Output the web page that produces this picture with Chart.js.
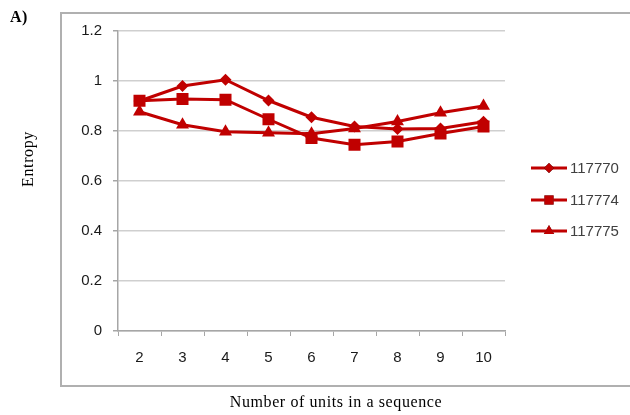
<!DOCTYPE html>
<html>
<head>
<meta charset="utf-8">
<script src="https://cdn.jsdelivr.net/npm/chart.js@4.4.0/dist/chart.umd.min.js"></script>
<style>
  html, body { margin: 0; padding: 0; background: #fff; }
  #wrap { position: relative; width: 630px; height: 415px; overflow: hidden; }
  #myChart { position: absolute; left: 0; top: 0; }
  .lbl { position: absolute; font-family: "Liberation Serif", "DejaVu Serif", serif; font-size: 16px; letter-spacing: 0.6px; color: #000; white-space: nowrap; line-height: 18px; }
  #panel { left: 10px; top: 8px; font-weight: bold; font-size: 16px; letter-spacing: 0.5px; }
  #ytitle { left: 28px; top: 159px; transform: translate(-50%, -50%) rotate(-90deg); }
  #xtitle { left: 336px; top: 402px; transform: translate(-50%, -50%); }
</style>
</head>
<body>
<div id="wrap">
  <canvas id="myChart" width="630" height="415"></canvas>
  <div class="lbl" id="panel">A)</div>
  <div class="lbl" id="ytitle">Entropy</div>
  <div class="lbl" id="xtitle">Number of units in a sequence</div>
</div>
<script>
// x categories
var units = ['2', '3', '4', '5', '6', '7', '8', '9', '10'];

// series names
var seriesNames = ['117770', '117774', '117775'];

// entropy values
var entropy_117770 = [0.92, 0.98, 1.005, 0.922, 0.855, 0.818, 0.808, 0.81, 0.837];
var entropy_117774 = [0.921, 0.928, 0.925, 0.847, 0.772, 0.745, 0.758, 0.79, 0.818];
var entropy_117775 = [0.877, 0.825, 0.797, 0.793, 0.789, 0.81, 0.838, 0.873, 0.9];

// y ticks
var yMin = 0;
var yMax = 1.2;
var yStep = 0.2;

var RED = '#c00000';
var markers = ['rectRot', 'rect', 'triangle'];
var markerSize = [6, 8.5, 7.5];
var legendSize = [5, 6.5, 6];

var myChart;

function makeDataset(i, values) {
    return {
        label: seriesNames[i],
        data: values,
        borderColor: RED,
        backgroundColor: RED,
        borderWidth: 3,
        tension: 0,
        fill: false,
        pointStyle: markers[i],
        pointRadius: markerSize[i],
        pointBorderWidth: 0,
        pointBackgroundColor: RED
    };
}

// frame around the chart + the line/marker legend
var framePlugin = {
    id: 'frame',
    beforeDraw: function(chart) {
        var ctx = chart.ctx;
        ctx.save();
        ctx.strokeStyle = '#b0b0b0';
        ctx.lineWidth = 2;
        ctx.strokeRect(61, 13, 600, 373);
        ctx.restore();
    },
    afterDraw: function(chart) {
        var ctx = chart.ctx;
        var rows = [168, 200, 231];
        ctx.save();
        for (var i = 0; i < chart.data.datasets.length; i++) {
            var ds = chart.data.datasets[i];
            var y = rows[i];
            ctx.strokeStyle = RED;
            ctx.lineWidth = 3;
            ctx.beginPath();
            ctx.moveTo(531, y);
            ctx.lineTo(567, y);
            ctx.stroke();
            Chart.helpers.drawPoint(ctx, {
                pointStyle: ds.pointStyle,
                radius: legendSize[i],
                rotation: 0,
                borderWidth: 0
            }, 549, y);
            ctx.fillStyle = RED;
            ctx.fill();
            ctx.fillStyle = '#404040';
            ctx.font = '15px "Liberation Sans", Arial, sans-serif';
            ctx.textBaseline = 'middle';
            ctx.textAlign = 'left';
            ctx.fillText(ds.label, 570, y + 1);
        }
        ctx.restore();
    }
};

function drawChart() {
    if (myChart) {
        myChart.destroy();
    }
    var ctx = document.getElementById('myChart').getContext('2d');
    myChart = new Chart(ctx, {
        type: 'line',
        data: {
            labels: units,
            datasets: [
                makeDataset(0, entropy_117770),
                makeDataset(1, entropy_117774),
                makeDataset(2, entropy_117775)
            ]
        },
        options: {
            responsive: false,
            animation: false,
            layout: { padding: { left: 0, right: 125, top: 31, bottom: 0 } },
            plugins: {
                legend: { display: false },
                tooltip: { enabled: false }
            },
            scales: {
                x: {
                    type: 'category',
                    offset: true,
                    afterFit: function(scale) { scale.height = 84; },
                    grid: {
                        offset: true,
                        drawOnChartArea: false,
                        drawTicks: true,
                        tickLength: 5,
                        color: '#a6a6a6',
                        lineWidth: 1
                    },
                    border: { color: '#a6a6a6', width: 1.5 },
                    ticks: {
                        padding: 13,
                        color: '#1a1a1a',
                        font: { family: '"Liberation Sans", Arial, sans-serif', size: 15 },
                        maxRotation: 0,
                        autoSkip: false
                    }
                },
                y: {
                    min: yMin,
                    max: yMax,
                    afterFit: function(scale) { scale.width = 118; },
                    grid: {
                        color: '#cfcfcf',
                        lineWidth: 1.5,
                        drawTicks: true,
                        tickLength: 5,
                        tickColor: '#a6a6a6'
                    },
                    border: { color: '#a6a6a6', width: 1.5 },
                    ticks: {
                        stepSize: yStep,
                        padding: 11,
                        color: '#1a1a1a',
                        font: { family: '"Liberation Sans", Arial, sans-serif', size: 15 },
                        callback: function(v) { return Math.round(v * 10) / 10; }
                    }
                }
            }
        },
        plugins: [framePlugin]
    });
}

drawChart();
</script>
</body>
</html>
